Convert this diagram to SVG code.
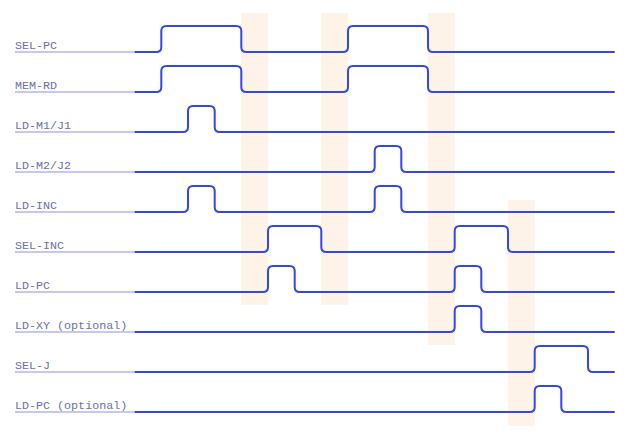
<svg xmlns="http://www.w3.org/2000/svg" width="640" height="442" viewBox="0 0 640 442">
<style>
.bar{fill:#fdf3e9}
.lbl{font-family:"Liberation Mono","Courier New",monospace;font-size:11.7px;fill:#6a70ae}
.ul{stroke:#aeb6f6;stroke-width:1.6;fill:none}
.w{stroke:#3347f0;stroke-width:2;fill:none;stroke-linejoin:round}
</style>
<rect width="640" height="442" fill="#ffffff"/>
<g id="highlights">
<rect class="bar" x="241.3" y="13" width="26.7" height="292"/>
<rect class="bar" x="321.3" y="13" width="26.7" height="292"/>
<rect class="bar" x="428" y="13" width="26.7" height="332"/>
<rect class="bar" x="508" y="200" width="26.7" height="226"/>
</g>
<g id="SEL-PC"><text class="lbl" x="15" y="49">SEL-PC</text><line class="ul" x1="15" y1="52" x2="135" y2="52"/>
<path class="w" d="M134.7 52 H156.3 q5 0 5 -5 v-16 q0 -5 5 -5 H236.3 q5 0 5 5 v16 q0 5 5 5 H343 q5 0 5 -5 v-16 q0 -5 5 -5 H423 q5 0 5 5 v16 q0 5 5 5 H614.7"/></g>
<g id="MEM-RD"><text class="lbl" x="15" y="89">MEM-RD</text><line class="ul" x1="15" y1="92" x2="135" y2="92"/>
<path class="w" d="M134.7 92 H156.3 q5 0 5 -5 v-16 q0 -5 5 -5 H236.3 q5 0 5 5 v16 q0 5 5 5 H343 q5 0 5 -5 v-16 q0 -5 5 -5 H423 q5 0 5 5 v16 q0 5 5 5 H614.7"/></g>
<g id="LD-M1-J1"><text class="lbl" x="15" y="129">LD-M1/J1</text><line class="ul" x1="15" y1="132" x2="135" y2="132"/>
<path class="w" d="M134.7 132 H183 q5 0 5 -5 v-16 q0 -5 5 -5 H209.7 q5 0 5 5 v16 q0 5 5 5 H614.7"/></g>
<g id="LD-M2-J2"><text class="lbl" x="15" y="169">LD-M2/J2</text><line class="ul" x1="15" y1="172" x2="135" y2="172"/>
<path class="w" d="M134.7 172 H369.7 q5 0 5 -5 v-16 q0 -5 5 -5 H396.3 q5 0 5 5 v16 q0 5 5 5 H614.7"/></g>
<g id="LD-INC"><text class="lbl" x="15" y="209">LD-INC</text><line class="ul" x1="15" y1="212" x2="135" y2="212"/>
<path class="w" d="M134.7 212 H183 q5 0 5 -5 v-16 q0 -5 5 -5 H209.7 q5 0 5 5 v16 q0 5 5 5 H369.7 q5 0 5 -5 v-16 q0 -5 5 -5 H396.3 q5 0 5 5 v16 q0 5 5 5 H614.7"/></g>
<g id="SEL-INC"><text class="lbl" x="15" y="249">SEL-INC</text><line class="ul" x1="15" y1="252" x2="135" y2="252"/>
<path class="w" d="M134.7 252 H263 q5 0 5 -5 v-16 q0 -5 5 -5 H316.3 q5 0 5 5 v16 q0 5 5 5 H449.7 q5 0 5 -5 v-16 q0 -5 5 -5 H503 q5 0 5 5 v16 q0 5 5 5 H614.7"/></g>
<g id="LD-PC"><text class="lbl" x="15" y="289">LD-PC</text><line class="ul" x1="15" y1="292" x2="135" y2="292"/>
<path class="w" d="M134.7 292 H263 q5 0 5 -5 v-16 q0 -5 5 -5 H289.7 q5 0 5 5 v16 q0 5 5 5 H449.7 q5 0 5 -5 v-16 q0 -5 5 -5 H476.3 q5 0 5 5 v16 q0 5 5 5 H614.7"/></g>
<g id="LD-XY"><text class="lbl" x="15" y="329">LD-XY (optional)</text><line class="ul" x1="15" y1="332" x2="135" y2="332"/>
<path class="w" d="M134.7 332 H449.7 q5 0 5 -5 v-16 q0 -5 5 -5 H476.3 q5 0 5 5 v16 q0 5 5 5 H614.7"/></g>
<g id="SEL-J"><text class="lbl" x="15" y="369">SEL-J</text><line class="ul" x1="15" y1="372" x2="135" y2="372"/>
<path class="w" d="M134.7 372 H529.7 q5 0 5 -5 v-16 q0 -5 5 -5 H583 q5 0 5 5 v16 q0 5 5 5 H614.7"/></g>
<g id="LD-PC-opt"><text class="lbl" x="15" y="409">LD-PC (optional)</text><line class="ul" x1="15" y1="412" x2="135" y2="412"/>
<path class="w" d="M134.7 412 H529.7 q5 0 5 -5 v-16 q0 -5 5 -5 H556.3 q5 0 5 5 v16 q0 5 5 5 H614.7"/></g>
</svg>
